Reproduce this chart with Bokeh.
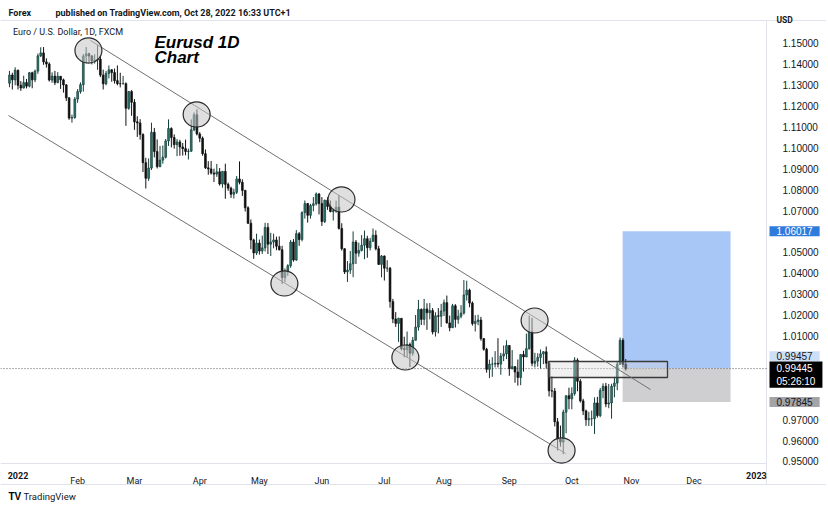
import numpy as np
import pandas as pd
from bokeh.plotting import figure
from bokeh.models import ColumnDataSource, FixedTicker, Label, Range1d, NumeralTickFormatter
from bokeh.embed import file_html
from bokeh.resources import INLINE

# ---------------- data (EUR/USD daily, FXCM) ----------------
first_day = "2021-12-29"
last_day = "2022-10-28"

dec_o = [1.1310, 1.1349, 1.1326]
dec_h = [1.1369, 1.1360, 1.1386]
dec_l = [1.1291, 1.1280, 1.1300]
dec_c = [1.1349, 1.1326, 1.1372]

jan_o = [1.1372, 1.1300, 1.1287, 1.1313, 1.1296, 1.1360, 1.1326, 1.1368, 1.1441, 1.1455, 1.1412,
         1.1402, 1.1325, 1.1344, 1.1313, 1.1343, 1.1326, 1.1302, 1.1240, 1.1143, 1.1146]
jan_h = [1.1375, 1.1320, 1.1346, 1.1330, 1.1364, 1.1365, 1.1375, 1.1452, 1.1482, 1.1483, 1.1429,
         1.1410, 1.1362, 1.1369, 1.1363, 1.1345, 1.1332, 1.1306, 1.1242, 1.1160, 1.1244]
jan_l = [1.1280, 1.1273, 1.1285, 1.1285, 1.1290, 1.1286, 1.1315, 1.1355, 1.1435, 1.1398, 1.1385,
         1.1318, 1.1312, 1.1301, 1.1310, 1.1283, 1.1265, 1.1225, 1.1135, 1.1121, 1.1140]
jan_c = [1.1300, 1.1287, 1.1313, 1.1296, 1.1360, 1.1326, 1.1368, 1.1441, 1.1455, 1.1412, 1.1402,
         1.1325, 1.1344, 1.1313, 1.1343, 1.1326, 1.1302, 1.1240, 1.1143, 1.1146, 1.1234]

feb_o = [1.1234, 1.1270, 1.1303, 1.1440, 1.1451, 1.1440, 1.1416, 1.1421, 1.1425, 1.1349,
         1.1307, 1.1357, 1.1374, 1.1361, 1.1322, 1.1308, 1.1307, 1.1308, 1.1190, 1.1270]
feb_h = [1.1282, 1.1314, 1.1449, 1.1483, 1.1456, 1.1445, 1.1448, 1.1495, 1.1440, 1.1375,
         1.1369, 1.1395, 1.1377, 1.1380, 1.1395, 1.1360, 1.1345, 1.1314, 1.1273, 1.1277]
feb_l = [1.1216, 1.1260, 1.1270, 1.1405, 1.1410, 1.1400, 1.1404, 1.1374, 1.1339, 1.1280,
         1.1300, 1.1333, 1.1317, 1.1308, 1.1300, 1.1290, 1.1305, 1.1106, 1.1183, 1.1154]
feb_c = [1.1270, 1.1303, 1.1440, 1.1451, 1.1440, 1.1416, 1.1421, 1.1425, 1.1349, 1.1307,
         1.1357, 1.1374, 1.1361, 1.1322, 1.1308, 1.1307, 1.1308, 1.1190, 1.1270, 1.1219]

mar_o = [1.1219, 1.1125, 1.1120, 1.1065, 1.0930, 1.0855, 1.0904, 1.1075, 1.0983, 1.0911, 1.0942, 1.0956,
         1.1034, 1.1093, 1.1050, 1.1016, 1.1029, 1.1005, 1.0997, 1.0983, 1.0985, 1.1087, 1.1159]
mar_h = [1.1234, 1.1152, 1.1138, 1.1070, 1.0953, 1.0950, 1.1121, 1.1096, 1.1041, 1.1010, 1.1012, 1.1043,
         1.1137, 1.1099, 1.1065, 1.1043, 1.1039, 1.1024, 1.1040, 1.0997, 1.1137, 1.1170, 1.1185]
mar_l = [1.1087, 1.1053, 1.1040, 1.0885, 1.0806, 1.0843, 1.0895, 1.0955, 1.0902, 1.0908, 1.0925, 1.0950,
         1.1010, 1.1003, 1.0997, 1.0961, 1.0963, 1.0964, 1.0965, 1.0945, 1.0981, 1.1080, 1.1060]
mar_c = [1.1125, 1.1120, 1.1065, 1.0930, 1.0855, 1.0904, 1.1075, 1.0983, 1.0911, 1.0942, 1.0956, 1.1034,
         1.1093, 1.1050, 1.1016, 1.1029, 1.1005, 1.0997, 1.0983, 1.0985, 1.1087, 1.1159, 1.1067]

apr_o = [1.1067, 1.1047, 1.0973, 1.0905, 1.0900, 1.0880, 1.0875, 1.0886, 1.0828, 1.0888, 1.0826,
         1.0808, 1.0779, 1.0788, 1.0852, 1.0836, 1.0797, 1.0714, 1.0640, 1.0560, 1.0498]
apr_h = [1.1076, 1.1055, 1.0993, 1.0937, 1.0938, 1.0901, 1.0924, 1.0904, 1.0890, 1.0925, 1.0835,
         1.0815, 1.0805, 1.0866, 1.0936, 1.0850, 1.0800, 1.0721, 1.0658, 1.0566, 1.0590]
apr_l = [1.1028, 1.0963, 1.0900, 1.0872, 1.0873, 1.0837, 1.0862, 1.0820, 1.0810, 1.0757, 1.0795,
         1.0761, 1.0758, 1.0780, 1.0826, 1.0771, 1.0696, 1.0636, 1.0516, 1.0470, 1.0488]
apr_c = [1.1047, 1.0973, 1.0905, 1.0900, 1.0880, 1.0875, 1.0886, 1.0828, 1.0888, 1.0826, 1.0808,
         1.0779, 1.0788, 1.0852, 1.0836, 1.0797, 1.0714, 1.0640, 1.0560, 1.0498, 1.0545]

may_o = [1.0545, 1.0507, 1.0522, 1.0620, 1.0540, 1.0550, 1.0560, 1.0530, 1.0513, 1.0380, 1.0410,
         1.0437, 1.0550, 1.0464, 1.0590, 1.0562, 1.0691, 1.0734, 1.0678, 1.0725, 1.0733, 1.0780]
may_h = [1.0562, 1.0581, 1.0642, 1.0641, 1.0594, 1.0590, 1.0576, 1.0577, 1.0532, 1.0424, 1.0444,
         1.0560, 1.0564, 1.0607, 1.0598, 1.0697, 1.0749, 1.0737, 1.0733, 1.0765, 1.0787, 1.0785]
may_l = [1.0490, 1.0493, 1.0505, 1.0493, 1.0483, 1.0520, 1.0511, 1.0510, 1.0350, 1.0358, 1.0389,
         1.0427, 1.0456, 1.0460, 1.0532, 1.0553, 1.0662, 1.0643, 1.0662, 1.0697, 1.0725, 1.0682]
may_c = [1.0507, 1.0522, 1.0620, 1.0540, 1.0550, 1.0560, 1.0530, 1.0513, 1.0380, 1.0410, 1.0437,
         1.0550, 1.0464, 1.0590, 1.0562, 1.0691, 1.0734, 1.0678, 1.0725, 1.0733, 1.0780, 1.0734]

jun_o = [1.0734, 1.0648, 1.0750, 1.0720, 1.0696, 1.0700, 1.0717, 1.0615, 1.0518, 1.0407, 1.0416,
         1.0446, 1.0550, 1.0497, 1.0510, 1.0535, 1.0566, 1.0523, 1.0554, 1.0583, 1.0518, 1.0443]
jun_h = [1.0765, 1.0753, 1.0764, 1.0749, 1.0710, 1.0748, 1.0774, 1.0640, 1.0520, 1.0459, 1.0507,
         1.0601, 1.0560, 1.0547, 1.0583, 1.0605, 1.0580, 1.0570, 1.0615, 1.0606, 1.0532, 1.0488]
jun_l = [1.0627, 1.0641, 1.0704, 1.0692, 1.0653, 1.0690, 1.0610, 1.0509, 1.0397, 1.0359, 1.0398,
         1.0382, 1.0445, 1.0480, 1.0505, 1.0468, 1.0475, 1.0510, 1.0550, 1.0510, 1.0441, 1.0381]
jun_c = [1.0648, 1.0750, 1.0720, 1.0696, 1.0700, 1.0717, 1.0615, 1.0518, 1.0407, 1.0416, 1.0446,
         1.0550, 1.0497, 1.0510, 1.0535, 1.0566, 1.0523, 1.0554, 1.0583, 1.0518, 1.0443, 1.0483]

jul_o = [1.0483, 1.0425, 1.0425, 1.0265, 1.0182, 1.0161, 1.0185, 1.0040, 1.0036, 1.0060, 1.0018,
         1.0080, 1.0143, 1.0228, 1.0180, 1.0230, 1.0212, 1.0222, 1.0120, 1.0197, 1.0195]
jul_h = [1.0486, 1.0463, 1.0431, 1.0278, 1.0215, 1.0188, 1.0186, 1.0097, 1.0122, 1.0069, 1.0096,
         1.0201, 1.0273, 1.0232, 1.0278, 1.0257, 1.0258, 1.0234, 1.0214, 1.0234, 1.0254]
jul_l = [1.0366, 1.0407, 1.0236, 1.0162, 1.0144, 1.0072, 1.0031, 0.9999, 0.9998, 0.9952, 1.0006,
         1.0079, 1.0126, 1.0153, 1.0152, 1.0130, 1.0180, 1.0108, 1.0098, 1.0113, 1.0144]
jul_c = [1.0425, 1.0425, 1.0265, 1.0182, 1.0161, 1.0185, 1.0040, 1.0036, 1.0060, 1.0018, 1.0080,
         1.0143, 1.0228, 1.0180, 1.0230, 1.0212, 1.0222, 1.0120, 1.0197, 1.0195, 1.0220]

aug_o = [1.0220, 1.0260, 1.0163, 1.0140, 1.0245, 1.0180, 1.0195, 1.0210, 1.0297, 1.0320, 1.0258, 1.0160,
         1.0170, 1.0177, 1.0088, 1.0037, 0.9941, 0.9966, 0.9966, 0.9970, 0.9966, 1.0005, 1.0015]
aug_h = [1.0275, 1.0294, 1.0198, 1.0254, 1.0253, 1.0226, 1.0248, 1.0368, 1.0365, 1.0327, 1.0266, 1.0200,
         1.0202, 1.0192, 1.0090, 1.0044, 0.9987, 0.9999, 1.0028, 1.0090, 1.0020, 1.0055, 1.0080]
aug_l = [1.0196, 1.0160, 1.0123, 1.0140, 1.0141, 1.0159, 1.0185, 1.0203, 1.0270, 1.0238, 1.0150, 1.0122,
         1.0152, 1.0078, 1.0030, 0.9925, 0.9899, 0.9905, 0.9950, 0.9950, 0.9915, 0.9980, 0.9990]
aug_c = [1.0260, 1.0163, 1.0140, 1.0245, 1.0180, 1.0195, 1.0210, 1.0297, 1.0320, 1.0258, 1.0160, 1.0170,
         1.0177, 1.0088, 1.0037, 0.9941, 0.9966, 0.9966, 0.9970, 0.9966, 1.0005, 1.0015, 1.0055]

sep_o = [1.0055, 0.9945, 0.9954, 0.9928, 0.9902, 1.0012, 1.0000, 1.0040, 1.0120, 0.9970, 0.9980,
         0.9998, 1.0015, 1.0025, 0.9970, 0.9838, 0.9837, 0.9690, 0.9607, 0.9593, 0.9736, 0.9815]
sep_h = [1.0057, 1.0033, 0.9954, 0.9988, 1.0012, 1.0030, 1.0112, 1.0198, 1.0187, 1.0020, 1.0018,
         1.0036, 1.0028, 1.0050, 0.9976, 0.9907, 0.9852, 0.9708, 0.9672, 0.9748, 0.9815, 0.9853]
sep_l = [0.9910, 0.9940, 0.9877, 0.9863, 0.9865, 0.9930, 1.0000, 1.0035, 0.9956, 0.9950, 0.9954,
         0.9945, 0.9966, 0.9945, 0.9811, 0.9807, 0.9668, 0.9553, 0.9571, 0.9535, 0.9635, 0.9750]
sep_c = [0.9945, 0.9954, 0.9928, 0.9902, 1.0012, 1.0000, 1.0040, 1.0120, 0.9970, 0.9980, 0.9998,
         1.0015, 1.0025, 0.9970, 0.9838, 0.9837, 0.9690, 0.9607, 0.9593, 0.9736, 0.9815, 0.9800]

oct_o = [0.9800, 0.9825, 0.9985, 0.9884, 0.9790, 0.9742, 0.9700, 0.9705, 0.9705, 0.9780,
         0.9720, 0.9840, 0.9860, 0.9775, 0.9780, 0.9860, 0.9875, 0.9965, 1.0080, 0.9965]
oct_h = [0.9855, 0.9999, 0.9994, 0.9894, 0.9800, 0.9748, 0.9738, 0.9744, 0.9807, 0.9809,
         0.9852, 0.9874, 0.9876, 0.9871, 0.9872, 0.9905, 0.9977, 1.0093, 1.0090, 0.9990]
oct_l = [0.9750, 0.9815, 0.9836, 0.9782, 0.9722, 0.9671, 0.9670, 0.9670, 0.9632, 0.9710,
         0.9712, 0.9803, 0.9760, 0.9755, 0.9705, 0.9807, 0.9841, 0.9963, 0.9950, 0.9935]
oct_c = [0.9825, 0.9985, 0.9884, 0.9790, 0.9742, 0.9700, 0.9705, 0.9705, 0.9780, 0.9720,
         0.9840, 0.9860, 0.9775, 0.9780, 0.9860, 0.9875, 0.9965, 1.0080, 0.9965, 0.99445]

# axis labels
month_starts = ["2022-01-03", "2022-02-01", "2022-03-01", "2022-04-01", "2022-05-02", "2022-06-01",
                "2022-07-01", "2022-08-01", "2022-09-01", "2022-10-03", "2022-11-01", "2022-12-01",
                "2023-01-02"]
month_labels = ["2022", "Feb", "Mar", "Apr", "May", "Jun", "Jul", "Aug", "Sep", "Oct", "Nov", "Dec", "2023"]
price_ticks = [0.95, 0.96, 0.97, 1.01, 1.02, 1.03, 1.04, 1.05,
               1.07, 1.08, 1.09, 1.10, 1.11, 1.12, 1.13, 1.14, 1.15]

# drawings (bar index counted from 2022-01-03, price)
upper_x = [25.5, 222.7]
upper_y = [1.15144, 0.98445]
lower_x = [-3.35, 192.8]
lower_y = [1.11555, 0.95383]
ring_x = [24.8, 62.9, 113.9, 93.8, 136.4, 181.9, 191.4]
ring_y = [1.14665, 1.11603, 1.07536, 1.03517, 0.99976, 1.01746, 0.95526]
zone_x = [186.8, 228.7]
zone_y = [0.99019, 0.99785]
pos_x = [212.9, 250.9]
pos_target = 1.06017
pos_entry = 0.99457
pos_stop = 0.97845
last_price = 0.99445
countdown = "05:26:10"

# ---------------- build ----------------
opens = np.array(dec_o + jan_o + feb_o + mar_o + apr_o + may_o + jun_o + jul_o + aug_o + sep_o + oct_o)
highs = np.array(dec_h + jan_h + feb_h + mar_h + apr_h + may_h + jun_h + jul_h + aug_h + sep_h + oct_h)
lows = np.array(dec_l + jan_l + feb_l + mar_l + apr_l + may_l + jun_l + jul_l + aug_l + sep_l + oct_l)
closes = np.array(dec_c + jan_c + feb_c + mar_c + apr_c + may_c + jun_c + jul_c + aug_c + sep_c + oct_c)

dates = pd.bdate_range(first_day, last_day).values.astype("datetime64[D]")
n = min(len(dates), len(closes))
dates, opens, highs, lows, closes = dates[:n], opens[:n], highs[:n], lows[:n], closes[:n]
base = np.datetime64("2022-01-03")
xi = np.busday_count(base, dates).astype(float)
tick_x = [float(np.busday_count(base, np.datetime64(d))) for d in month_starts]

up = closes >= opens
dn = ~up
def src(mask):
    return ColumnDataSource(dict(x=xi[mask], high=highs[mask], low=lows[mask],
                                 top=np.maximum(opens, closes)[mask],
                                 bottom=np.minimum(opens, closes)[mask]))
up_src, dn_src = src(up), src(dn)

# page geometry: 2.84 px per bar, 2090 px per 1.0 of price
W, H = 826, 505
X0 = -6.162
X1 = X0 + W / 2.84
Y1 = 1.170574
Y0 = Y1 - H / 2090.0
SCALE_X = 263.56          # left edge of the price scale (bar units)
TIME_Y = 0.949043         # top edge of the time scale (price units)
TIME_Y2 = 0.938995        # bottom edge of the time scale
TOP_Y = 1.161005          # top edge of the chart pane

FONT = "Roboto"
p = figure(width=W, height=H, output_backend="svg", toolbar_location=None, tools="",
           x_range=Range1d(X0, X1), y_range=Range1d(Y0, Y1),
           y_axis_location="right", min_border=0)
p.background_fill_color = "white"
p.border_fill_color = "white"
p.outline_line_color = None
p.xgrid.visible = False
p.ygrid.visible = False

# price axis, pinned at the price-scale edge
p.yaxis.fixed_location = SCALE_X
p.yaxis.ticker = FixedTicker(ticks=price_ticks)
p.yaxis.formatter = NumeralTickFormatter(format="0.00000")
p.yaxis.major_tick_line_color = None
p.yaxis.minor_tick_line_color = None
p.yaxis.axis_line_color = None
p.yaxis.major_label_standoff = 10
p.yaxis.major_label_text_font = "Liberation Sans"
p.yaxis.major_label_text_font_size = "10px"
p.yaxis.major_label_text_color = "#131722"

# time axis, pinned at the time-scale edge
p.xaxis.fixed_location = TIME_Y
p.xaxis.ticker = FixedTicker(ticks=tick_x)
p.xaxis.major_label_overrides = {t: ("" if lab.isdigit() else lab) for t, lab in zip(tick_x, month_labels)}
p.xaxis.major_tick_line_color = None
p.xaxis.minor_tick_line_color = None
p.xaxis.axis_line_color = None
p.xaxis.major_label_standoff = 7
p.xaxis.major_label_text_font = FONT
p.xaxis.major_label_text_font_size = "9px"
p.xaxis.major_label_text_color = "#131722"

# pane borders
BORDER = "#e0e3eb"
p.segment(x0=[X0, X0, X0, SCALE_X], y0=[TOP_Y, TIME_Y, TIME_Y2, TOP_Y],
          x1=[X1, SCALE_X, X1, SCALE_X], y1=[TOP_Y, TIME_Y, TIME_Y2, TIME_Y2],
          line_color=BORDER, line_width=1)

# long-position tool
p.quad(left=[pos_x[0]], right=[pos_x[1]], bottom=[pos_entry], top=[pos_target],
       fill_color="#a9c7f6", line_color=None)
p.quad(left=[pos_x[0]], right=[pos_x[1]], bottom=[pos_stop], top=[pos_entry],
       fill_color="#cfcfd2", line_color=None)

# current price line
p.segment(x0=[X0], y0=[last_price], x1=[SCALE_X], y1=[last_price],
          line_color="#555555", line_dash="1 2", line_width=1)

# candles
UP_FILL, UP_LINE, DN = "#2c7a72", "#163c39", "#111111"
p.segment(x0="x", y0="high", x1="x", y1="low", source=up_src, line_color=UP_LINE, line_width=1)
p.segment(x0="x", y0="high", x1="x", y1="low", source=dn_src, line_color=DN, line_width=1)
p.vbar(x="x", width=0.62, top="top", bottom="bottom", source=up_src,
       fill_color=UP_FILL, line_color=UP_LINE, line_width=0.7)
p.vbar(x="x", width=0.62, top="top", bottom="bottom", source=dn_src,
       fill_color=DN, line_color=DN, line_width=0.7)

# rectangle zone
p.quad(left=[zone_x[0]], right=[zone_x[1]], bottom=[zone_y[0]], top=[zone_y[1]],
       fill_color="#d8d8d8", fill_alpha=0.35, line_color="#3a3a3a", line_width=1.3)

# channel
p.line(upper_x, upper_y, line_color="#707070", line_width=1)
p.line(lower_x, lower_y, line_color="#707070", line_width=1)

# rings
p.ellipse(x=ring_x, y=ring_y, width=9.5, height=0.012,
          fill_color="#c4c4c4", fill_alpha=0.55, line_color="#2a2a2a", line_width=1.2)

def lab(text, x, y, size, xu="screen", yu="screen", **kw):
    d = dict(text_font=FONT, text_color="#131722", text_baseline="middle", text_align="left")
    d.update(kw)
    p.add_layout(Label(x=x, y=y, x_units=xu, y_units=yu, text=text,
                       text_font_size=size, **d))

# header & legend (screen units: from the bottom-left of the canvas)
lab("Forex", 8, H - 12, "9px", text_font_style="bold")
lab("published on TradingView.com, Oct 28, 2022 16:33 UTC+1", 55, H - 12, "9px", text_font_style="bold")
lab("Euro / U.S. Dollar, 1D, FXCM", 12.5, H - 31.5, "9px")
lab("Eurusd 1D", 154, H - 41.5, "17px", text_font="Liberation Sans", text_font_style="bold italic", text_color="black")
lab("Chart", 154, H - 56.5, "17px", text_font="Liberation Sans", text_font_style="bold italic", text_color="black")
lab("USD", 776, H - 19, "8.5px", text_font_style="bold")
lab("TV", 8, H - 496, "10px", text_font="Liberation Sans", text_font_style="bold", text_color="black")
lab("TradingView", 23, H - 496, "9.5px", text_color="#131722")

# bold year labels on the time axis
for t, l in zip(tick_x, month_labels):
    if l.isdigit():
        lab(l, t, H - 474.7, "9px", xu="data", text_align="center", text_font_style="bold")

# price tags (box starts at the left edge of the label column)
tag = dict(xu="screen", yu="data", text_font="Liberation Sans", padding=(7, 1))
lab("1.06017", 769, pos_target, "10px", background_fill_color="#2f7bdc", text_color="white", **tag)
lab("0.99457", 769, pos_entry, "10px", background_fill_color="#cddff7", y_offset=12, **tag)
lab(f"{last_price:.5f}\n{countdown}", 769, last_price, "10px", background_fill_color="black",
    text_color="white", text_baseline="top", y_offset=7, **tag)
lab("0.97845", 769, pos_stop, "10px", background_fill_color="#a3a3a8", **tag)

open("out.html", "w").write(file_html(p, INLINE))
